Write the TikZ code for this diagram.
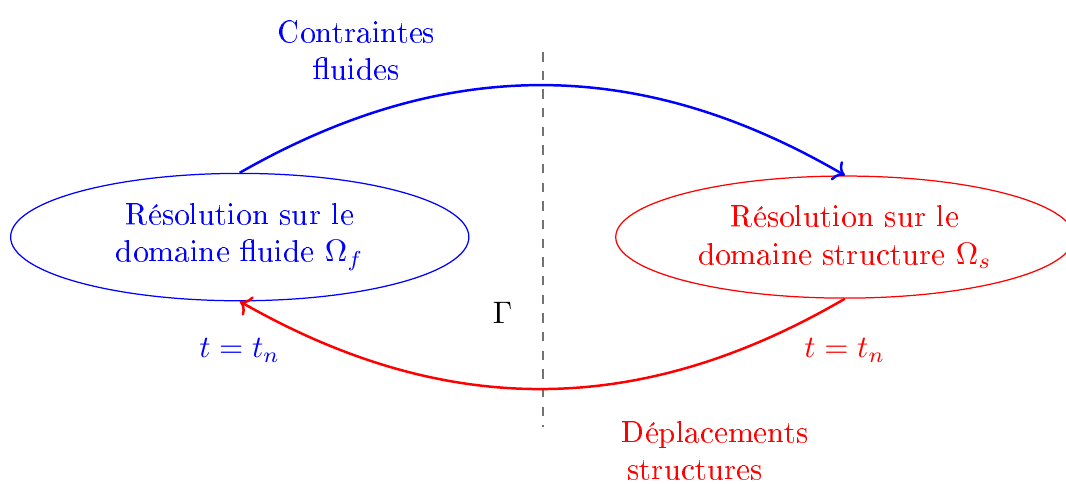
\documentclass[tikz,border=0pt]{standalone}
\usepackage[T1]{fontenc}
\usepackage{amsmath,amssymb}
\usepackage{tikz}
\usetikzlibrary{positioning,arrows.meta,shapes.geometric}

\begin{document}
\begin{tikzpicture}[domaine/.style={draw,ellipse,align=center,inner sep=0pt,minimum width=5.18cm,minimum height=1.44cm}]
  \useasboundingbox (0,0) rectangle (12.05,5.46);
  \node[domaine,blue] (fluide) at (2.71,2.78) {R\'esolution sur le\\domaine fluide $\Omega_f$};
  \node[domaine,red,minimum height=1.38cm] (solide) at (9.55,2.78) {R\'esolution sur le\\domaine structure $\Omega_s$};
  \coordinate (gamma haut) at (6.14,4.87);
  \coordinate (gamma bas) at (6.14,0.63);
  \draw[gray!90!black,semithick,dashed] (gamma haut) -- (gamma bas);
  \node (gamma) at (5.68,1.92) {$\Gamma$};
  \draw[->,thick,blue] (fluide.north) to[bend left=30] (solide.north);
  \draw[->,thick,red] (solide.south) to[bend left=30] (fluide.south);
  \node[blue] (tfluide) at (2.71,1.50) {$t=t_n$};
  \node[red] (tsolide) at (9.55,1.50) {$t=t_n$};
  \node[blue,align=center] (contraintes) at (4.03,4.89) {Contraintes\\fluides};
  \node[red,align=left,anchor=west] (deplacements) at (6.90,0.37) {D\'eplacements\\\hspace{2pt}structures};
\end{tikzpicture}
\end{document}
